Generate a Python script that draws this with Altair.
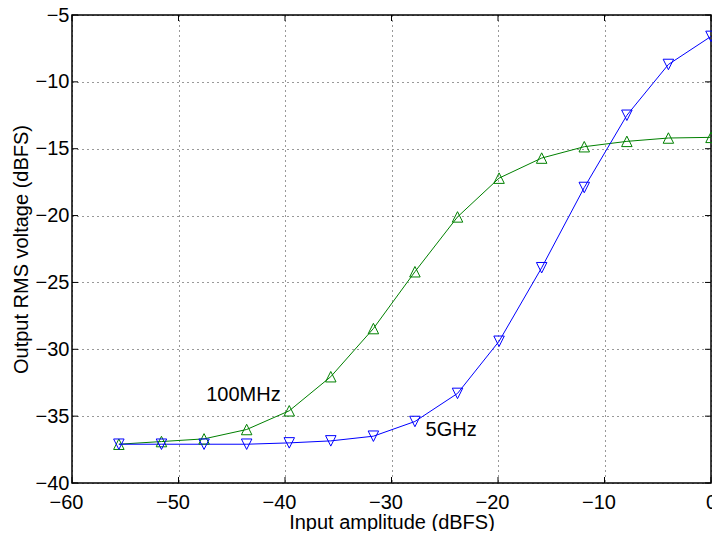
import altair as alt
import pandas as pd

x_vals = [-55.6, -51.6, -47.6, -43.6, -39.6, -35.7, -31.7, -27.8, -23.8, -19.9, -15.9, -11.9, -7.9, -4.0, 0.0]
green_100mhz = [-37.1, -36.9, -36.7, -36.0, -34.6, -32.05, -28.45, -24.2, -20.1, -17.2, -15.7, -14.85, -14.45, -14.2, -14.15]
blue_5ghz = [-37.1, -37.1, -37.1, -37.1, -37.0, -36.85, -36.5, -35.4, -33.3, -29.4, -23.9, -17.9, -12.5, -8.7, -6.6]

x_ticks = [-60, -50, -40, -30, -20, -10, 0]
y_ticks = [-40, -35, -30, -25, -20, -15, -10, -5]

label_text = ["100MHz", "5GHz"]
label_x = [-47.4, -26.8]
label_y = [-33.85, -36.5]

W, H = 639, 468
FONT = "Liberation Sans"

df_g = pd.DataFrame({"x": x_vals, "y": green_100mhz})
df_b = pd.DataFrame({"x": x_vals, "y": blue_5ghz})
df_xt = pd.DataFrame({"v": x_ticks})
df_yt = pd.DataFrame({"v": y_ticks})
df_lab = pd.DataFrame({"t": label_text, "x": label_x, "y": label_y})

xscale = alt.Scale(domain=[-60, 0], nice=False, zero=False)
yscale = alt.Scale(domain=[-40, -5], nice=False, zero=False)

xaxis = alt.Axis(
    values=x_ticks, title="Input amplitude (dBFS)", grid=True, gridDash=[1, 4],
    gridColor="#000000", gridOpacity=0.8, ticks=False, tickSize=0, domain=False,
    labelFont=FONT, labelFontSize=20, labelColor="#000000", labelBaseline="alphabetic",
    labelPadding=25, labelOffset={"condition": {"test": "datum.value < 0", "value": -6}, "value": 0},
    labelFlush=False, labelExpr="replace(datum.label, '-', '\u2212')",
    titleFont=FONT, titleFontSize=20, titleFontWeight="normal", titleColor="#000000",
    titleBaseline="alphabetic", titleY=45,
)
yaxis = alt.Axis(
    values=y_ticks, title="Output RMS voltage (dBFS)", grid=True, gridDash=[1, 4],
    gridColor="#000000", gridOpacity=0.8, ticks=False, tickSize=0, domain=False,
    labelFont=FONT, labelFontSize=20, labelColor="#000000", labelPadding=3,
    labelFlush=False, labelExpr="replace(datum.label, '-', '\u2212')",
    titleFont=FONT, titleFontSize=20, titleFontWeight="normal", titleColor="#000000",
    titleBaseline="alphabetic", titleX=-45,
)

base_x = alt.X("x:Q", scale=xscale, axis=xaxis)
base_y = alt.Y("y:Q", scale=yscale, axis=yaxis)

up_tri = "M0,-1L1,1L-1,1Z"
down_tri = "M0,1L1,-1L-1,-1Z"

green_line = alt.Chart(df_g).mark_line(color="#008000", strokeWidth=1).encode(x=base_x, y=base_y)
green_pts = alt.Chart(df_g).mark_point(shape=up_tri, size=110, color="#008000", filled=False,
                                       strokeWidth=1, opacity=1).encode(x="x:Q", y="y:Q")
blue_line = alt.Chart(df_b).mark_line(color="#0000ff", strokeWidth=1).encode(x="x:Q", y="y:Q")
blue_pts = alt.Chart(df_b).mark_point(shape=down_tri, size=110, color="#0000ff", filled=False,
                                      strokeWidth=1, opacity=1).encode(x="x:Q", y="y:Q")

labels = alt.Chart(df_lab).mark_text(font=FONT, fontSize=20, color="#000000", align="left",
                                     baseline="alphabetic").encode(x="x:Q", y="y:Q", text="t:N")

tl = 6
xt_bot = alt.Chart(df_xt).mark_rule(color="#000000", strokeWidth=1).encode(
    x=alt.X("v:Q"), y=alt.value(H), y2=alt.value(H - tl))
xt_top = alt.Chart(df_xt).mark_rule(color="#000000", strokeWidth=1).encode(
    x=alt.X("v:Q"), y=alt.value(0), y2=alt.value(tl))
yt_left = alt.Chart(df_yt).mark_rule(color="#000000", strokeWidth=1).encode(
    y=alt.Y("v:Q"), x=alt.value(0), x2=alt.value(tl))
yt_right = alt.Chart(df_yt).mark_rule(color="#000000", strokeWidth=1).encode(
    y=alt.Y("v:Q"), x=alt.value(W), x2=alt.value(W - tl))

chart = alt.layer(
    green_line, blue_line, green_pts, blue_pts, labels, xt_bot, xt_top, yt_left, yt_right
).properties(
    width=W, height=H,
    autosize=alt.AutoSizeParams(type="none"),
    padding={"left": 64, "top": 7, "right": 1, "bottom": 48},
    background="#ffffff",
).configure_view(
    stroke="#000000", strokeWidth=1.5
)

chart.save("out.html", embed_options={"renderer": "svg", "actions": False})
